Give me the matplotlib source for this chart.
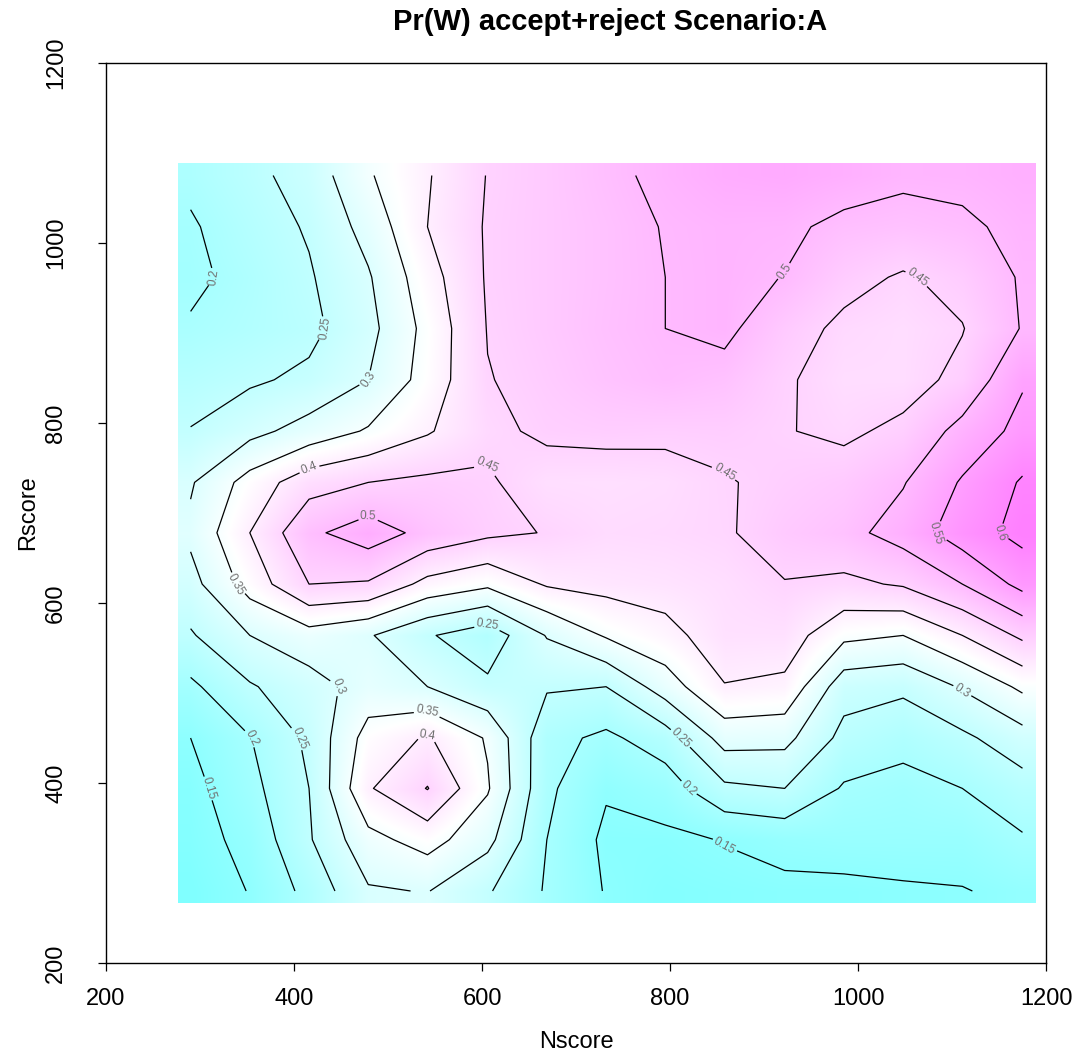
import numpy as np
import matplotlib
matplotlib.use("Agg")
import matplotlib.pyplot as plt
from matplotlib.colors import LinearSegmentedColormap, Normalize
from matplotlib.patches import Rectangle

plt.rcParams['font.family'] = ['Liberation Sans', 'DejaVu Sans']

# grid coordinates
nscore = [290, 353, 416, 479, 542, 606, 669, 732, 795, 858, 922, 985, 1048, 1111, 1175]
rscore = [280, 337, 394, 450, 507, 564, 621, 678, 734, 791, 848, 905, 962, 1018, 1075]

# Pr(W) values, one row per Rscore level (bottom to top)
pw_r280 = [0.12, 0.152, 0.215, 0.295, 0.302, 0.255, 0.195, 0.147, 0.13, 0.135, 0.14, 0.14, 0.145, 0.148, 0.16]
pw_r337 = [0.13, 0.165, 0.245, 0.335, 0.37, 0.315, 0.2, 0.14, 0.14, 0.152, 0.165, 0.17, 0.17, 0.17, 0.195]
pw_r394 = [0.135, 0.185, 0.25, 0.395, 0.452, 0.355, 0.21, 0.155, 0.175, 0.24, 0.25, 0.195, 0.185, 0.2, 0.23]
pw_r450 = [0.15, 0.198, 0.26, 0.37, 0.405, 0.345, 0.215, 0.19, 0.225, 0.32, 0.315, 0.235, 0.215, 0.24, 0.28]
pw_r507 = [0.19, 0.245, 0.28, 0.32, 0.30, 0.26, 0.255, 0.25, 0.325, 0.398, 0.39, 0.27, 0.26, 0.305, 0.36]
pw_r564 = [0.245, 0.30, 0.33, 0.305, 0.255, 0.22, 0.303, 0.355, 0.385, 0.425, 0.425, 0.362, 0.35, 0.40, 0.46]
pw_r621 = [0.283, 0.37, 0.45, 0.445, 0.385, 0.36, 0.405, 0.415, 0.42, 0.43, 0.448, 0.44, 0.455, 0.50, 0.565]
pw_r678 = [0.31, 0.40, 0.49, 0.525, 0.485, 0.46, 0.448, 0.435, 0.438, 0.445, 0.47, 0.485, 0.52, 0.575, 0.615]
pw_r734 = [0.295, 0.37, 0.43, 0.45, 0.46, 0.455, 0.43, 0.428, 0.432, 0.447, 0.46, 0.47, 0.497, 0.555, 0.605]
pw_r791 = [0.252, 0.285, 0.32, 0.355, 0.395, 0.44, 0.458, 0.462, 0.46, 0.462, 0.452, 0.442, 0.46, 0.516, 0.565]
pw_r848 = [0.228, 0.243, 0.26, 0.30, 0.37, 0.448, 0.465, 0.482, 0.494, 0.485, 0.455, 0.432, 0.432, 0.462, 0.545]
pw_r905 = [0.205, 0.22, 0.237, 0.285, 0.365, 0.452, 0.47, 0.487, 0.50, 0.51, 0.47, 0.44, 0.432, 0.448, 0.503]
pw_r962 = [0.19, 0.215, 0.245, 0.295, 0.38, 0.455, 0.47, 0.485, 0.50, 0.51, 0.499, 0.465, 0.445, 0.465, 0.505]
pw_r1018 = [0.195, 0.225, 0.255, 0.318, 0.40, 0.455, 0.47, 0.485, 0.502, 0.51, 0.508, 0.49, 0.485, 0.493, 0.51]
pw_r1075 = [0.21, 0.237, 0.27, 0.345, 0.396, 0.452, 0.47, 0.49, 0.51, 0.525, 0.53, 0.52, 0.508, 0.51, 0.52]

contour_levels = [0.15, 0.2, 0.25, 0.3, 0.35, 0.4, 0.45, 0.5, 0.55, 0.6]
axis_ticks = [200, 400, 600, 800, 1000, 1200]

Z = np.array([pw_r280, pw_r337, pw_r394, pw_r450, pw_r507, pw_r564, pw_r621, pw_r678,
              pw_r734, pw_r791, pw_r848, pw_r905, pw_r962, pw_r1018, pw_r1075])
x = np.array(nscore, dtype=float)
y = np.array(rscore, dtype=float)

# R cm.colors: cyan -> white -> magenta
cmap = LinearSegmentedColormap.from_list('cm', ['#80FFFF', '#FFFFFF', '#FF80FF'])
norm = Normalize(vmin=Z.min(), vmax=Z.max())

W, H = 1079, 1053
fig = plt.figure(figsize=(W / 100, H / 100), dpi=100)
ax = fig.add_axes([106 / W, 1 - 963 / H, 940 / W, 900 / H])

dx = (x[-1] - x[0]) / (len(x) - 1)
dy = (y[-1] - y[0]) / (len(y) - 1)
im = ax.imshow(Z, origin='lower', cmap=cmap, norm=norm, interpolation='bilinear',
               extent=(x[0] - dx / 2, x[-1] + dx / 2, y[0] - dy / 2, y[-1] + dy / 2),
               aspect='auto', zorder=1)
clip = Rectangle((277, 267), 912, 822, transform=ax.transData)
im.set_clip_path(clip)

cs = ax.contour(x, y, Z, levels=contour_levels, colors='black', linewidths=0.9, zorder=2)
ax.clabel(cs, inline=True, fontsize=8.5, colors='#707070', fmt='%g', inline_spacing=3)

ax.set_xlim(200, 1200)
ax.set_ylim(200, 1200)
ax.set_xticks(axis_ticks)
ax.set_yticks(axis_ticks)
ax.set_xticklabels([str(t) for t in axis_ticks])
ax.set_yticklabels([str(t) for t in axis_ticks], rotation=90, va='center')
ax.tick_params(direction='out', length=6, width=0.9, labelsize=17, pad=12)
ax.tick_params(axis='y', pad=22)
for s in ax.spines.values():
    s.set_linewidth(1.0)

ax.set_xlabel('Nscore', fontsize=17, labelpad=15)
ax.set_ylabel('Rscore', fontsize=17, labelpad=4)
fig.text(610 / W, 1 - 22 / H, 'Pr(W) accept+reject Scenario:A', ha='center', va='center',
         fontsize=21, fontweight='bold')

fig.savefig('out.png', dpi=100)
